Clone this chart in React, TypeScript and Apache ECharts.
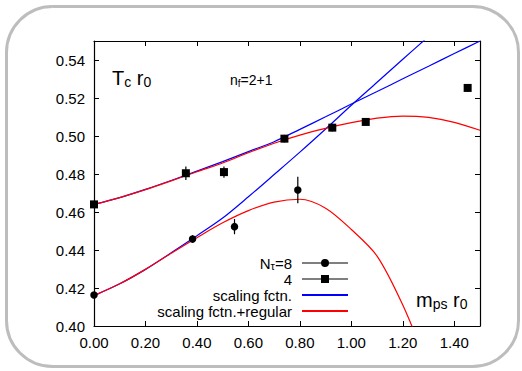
import React, { useEffect, useRef } from "react";
import * as echarts from "echarts";

// ---- data ----
const mpsN8 = [0, 0.383, 0.546, 0.792];
const tcN8 = [0.4163, 0.4458, 0.4523, 0.4716];
const errN8 = [0.0012, 0.002, 0.004, 0.007];

const mpsN4 = [0, 0.357, 0.505, 0.74, 0.926, 1.056, 1.452];
const tcN4 = [0.464, 0.4804, 0.481, 0.4986, 0.5044, 0.5074, 0.5253];
const errN4 = [0.001, 0.0035, 0.003, 0.002, 0.002, 0.0015, 0.002];

const curveX = [0, 0.1, 0.2, 0.3, 0.4, 0.5, 0.6, 0.7, 0.8, 0.9, 1.0, 1.1, 1.2, 1.3, 1.4, 1.5];
const scalingN4 = [0.464, 0.4676, 0.4719, 0.4766, 0.4815, 0.4865, 0.4918, 0.497, 0.5035, 0.5101, 0.5168, 0.5234, 0.5301, 0.5367, 0.5434, 0.55];
const regularN4 = [0.464, 0.4676, 0.4718, 0.4764, 0.4812, 0.4858, 0.4912, 0.4962, 0.5005, 0.504, 0.507, 0.5094, 0.5105, 0.5098, 0.5072, 0.503];
const curveX8 = [0, 0.1, 0.2, 0.3, 0.4, 0.5, 0.6, 0.7, 0.8, 0.9, 1.0, 1.1, 1.2, 1.3];
const scalingN8 = [0.416, 0.4222, 0.4298, 0.4385, 0.4475, 0.4568, 0.468, 0.4797, 0.4915, 0.5037, 0.5162, 0.5283, 0.5404, 0.5524];
const regularN8 = [0.416, 0.4222, 0.4298, 0.4383, 0.4465, 0.4543, 0.4607, 0.4652, 0.4667, 0.462, 0.4508, 0.4368, 0.411, 0.378];

const xTicks = { min: 0, max: 1.5, interval: 0.2 };
const yTicks = { min: 0.4, max: 0.55, interval: 0.02 };

const legendNames = ["Nτ=8", "4", "scaling fctn.", "scaling fctn.+regular"];

const FONT = "Liberation Sans, Arial, sans-serif";

const zip = (xs: number[], ys: number[]) => xs.map((x, i) => [x, ys[i]]);
const zip3 = (xs: number[], ys: number[], es: number[]) => xs.map((x, i) => [x, ys[i], es[i]]);

const errRender = (params: any, api: any) => {
  const x = api.value(0);
  const y = api.value(1);
  const e = api.value(2);
  const p1 = api.coord([x, y - e]);
  const p2 = api.coord([x, y + e]);
  return {
    type: "line",
    shape: { x1: p1[0], y1: p1[1], x2: p2[0], y2: p2[1] },
    style: { stroke: "#000", lineWidth: 1.2 },
  };
};

export default function App() {
  const ref = useRef<HTMLDivElement>(null);
  useEffect(() => {
    if (!ref.current) return;
    const chart = echarts.init(ref.current, undefined, { renderer: "svg" });
    const axisCommon = {
      type: "value" as const,
      axisLine: { show: true, onZero: false, lineStyle: { color: "#000", width: 1.2 } },
      axisTick: { show: true, inside: true, length: 5, lineStyle: { color: "#000", width: 1 } },
      splitLine: { show: false },
    };
    const labelCommon = {
      color: "#000",
      fontSize: 15,
      fontFamily: FONT,
      showMaxLabel: false,
      formatter: (v: number) => v.toFixed(2),
    };
    const lineSeries = (name: string, xs: number[], ys: number[], color: string) => ({
      name,
      type: "line",
      data: zip(xs, ys),
      symbol: "none",
      smooth: 0.3,
      clip: true,
      lineStyle: { color, width: 1.2 },
      itemStyle: { color },
      z: 2,
    });
    const option: any = {
      animation: false,
      textStyle: { fontFamily: FONT },
      grid: { left: 94, right: 42, top: 41, bottom: 45, containLabel: false },
      xAxis: [
        { ...axisCommon, ...xTicks, position: "bottom", axisLabel: { ...labelCommon, margin: 9 } },
        { ...axisCommon, ...xTicks, position: "top", axisLabel: { show: false } },
      ],
      yAxis: [
        { ...axisCommon, ...yTicks, position: "left", axisLabel: { ...labelCommon, margin: 9 } },
        { ...axisCommon, ...yTicks, position: "right", axisLabel: { show: false } },
      ],
      legend: {
        orient: "vertical",
        align: "right",
        right: 173,
        top: 255,
        padding: 0,
        itemWidth: 46,
        itemHeight: 8,
        itemGap: 0,
        selectedMode: false,
        data: [
          { name: legendNames[0], icon: "path://M0,3.5H46V4.5H0Z M19,4A4,4 0 1,1 27,4A4,4 0 1,1 19,4Z" },
          { name: legendNames[1], icon: "path://M0,3.5H46V4.5H0Z M19,0H27V8H19Z" },
          { name: legendNames[2], itemStyle: { opacity: 0 } },
          { name: legendNames[3], itemStyle: { opacity: 0 } },
        ],
        formatter: (name: string) => (name === "Nτ=8" ? "{n|N}{s|τ}{n|=8}" : name),
        textStyle: {
          color: "#000",
          fontSize: 15,
          fontFamily: FONT,
          lineHeight: 16,
          padding: [0, 5, 0, 0],
          rich: {
            n: { fontSize: 15, lineHeight: 16, fontFamily: FONT, color: "#000" },
            s: { fontSize: 11, lineHeight: 4, verticalAlign: "bottom", fontFamily: FONT, color: "#000" },
          },
        },
      },
      graphic: [
        {
          type: "rect",
          shape: { x: 6.5, y: 6.5, width: 512, height: 360, r: 46 },
          style: { fill: "none", stroke: "#bdbdbd", lineWidth: 3 },
          silent: true,
          z: -10,
        },
        {
          type: "text",
          x: 112,
          y: 67,
          style: {
            text: "{a|T}{b|c}{a| r}{b|0}",
            verticalAlign: "top",
            rich: {
              a: { fontSize: 20, lineHeight: 22, fontFamily: FONT, fill: "#000" },
              b: { fontSize: 14, lineHeight: 10, verticalAlign: "bottom", fontFamily: FONT, fill: "#000" },
            },
          },
        },
        {
          type: "text",
          x: 230,
          y: 72,
          style: {
            text: "{a|n}{b|f}{a|=2+1}",
            verticalAlign: "top",
            rich: {
              a: { fontSize: 14, lineHeight: 16, fontFamily: FONT, fill: "#000" },
              b: { fontSize: 10, lineHeight: 6, verticalAlign: "bottom", fontFamily: FONT, fill: "#000" },
            },
          },
        },
        {
          type: "text",
          x: 416,
          y: 289,
          style: {
            text: "{a|m}{b|ps}{a| r}{b|0}",
            verticalAlign: "top",
            rich: {
              a: { fontSize: 20, lineHeight: 22, fontFamily: FONT, fill: "#000" },
              b: { fontSize: 14, lineHeight: 10, verticalAlign: "bottom", fontFamily: FONT, fill: "#000" },
            },
          },
        },
      ],
      series: [
        lineSeries("scaling fctn.", curveX, scalingN4, "#0000ff"),
        lineSeries("scaling fctn.", curveX8, scalingN8, "#0000ff"),
        lineSeries("scaling fctn.+regular", curveX, regularN4, "#ff0000"),
        lineSeries("scaling fctn.+regular", curveX8, regularN8, "#ff0000"),
        { type: "custom", renderItem: errRender, data: zip3(mpsN8, tcN8, errN8), z: 3 },
        { type: "custom", renderItem: errRender, data: zip3(mpsN4, tcN4, errN4), z: 3 },
        {
          name: "Nτ=8",
          type: "scatter",
          symbol: "circle",
          symbolSize: 7.5,
          data: zip(mpsN8, tcN8),
          itemStyle: { color: "#000", opacity: 1 },
          z: 4,
        },
        {
          name: "4",
          type: "scatter",
          symbol: "rect",
          symbolSize: 8,
          data: zip(mpsN4, tcN4),
          itemStyle: { color: "#000", opacity: 1 },
          z: 4,
        },
      ],
    };
    chart.setOption(option);
    return () => chart.dispose();
  }, []);
  return (
    <div
      ref={ref}
      style={{ position: "fixed", left: 0, top: 0, width: 522, height: 371, background: "#fff" }}
    />
  );
}
